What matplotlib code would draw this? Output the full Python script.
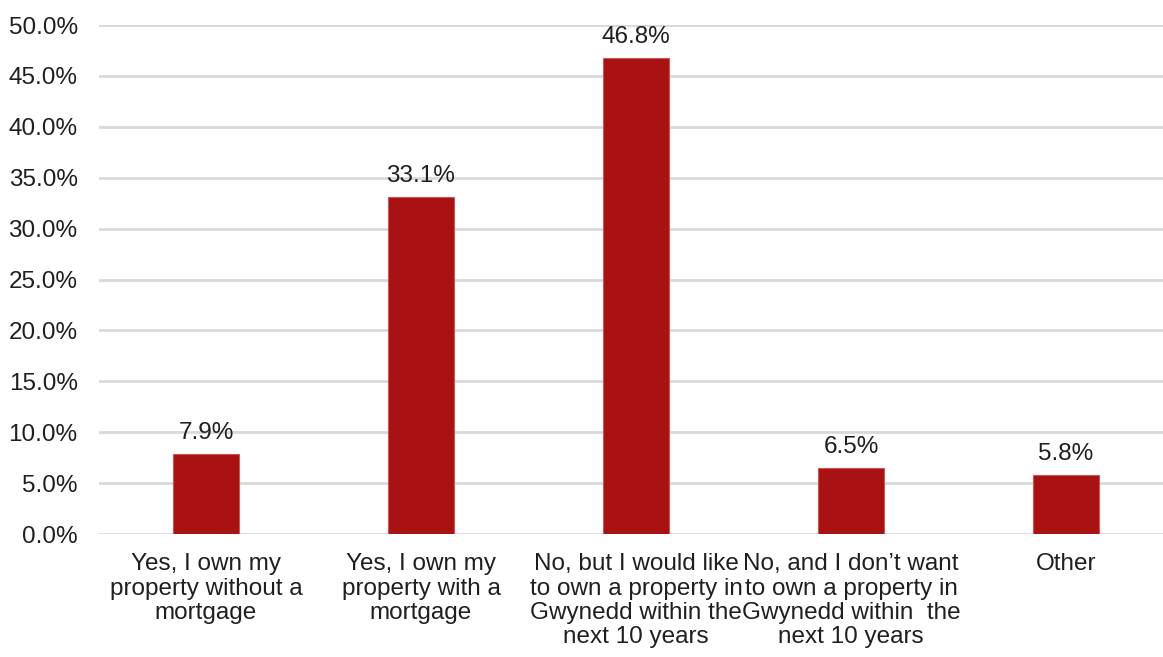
import matplotlib.pyplot as plt
from matplotlib.ticker import FuncFormatter

# survey answers and share of respondents (%)
categories = [
    "Yes, I own my\nproperty without a\nmortgage",
    "Yes, I own my\nproperty with a\nmortgage",
    "No, but I would like\nto own a property in\nGwynedd within the\nnext 10 years",
    "No, and I don\u2019t want\nto own a property in\nGwynedd within  the\nnext 10 years",
    "Other",
]
shares = [7.9, 33.1, 46.8, 6.5, 5.8]
value_labels = ["7.9%", "33.1%", "46.8%", "6.5%", "5.8%"]

plt.rcParams['font.family'] = ['Liberation Sans', 'DejaVu Sans']
text_col = "#1F1F1F"
fs = 17.5

fig = plt.figure(figsize=(11.63, 6.57), dpi=100)
ax = fig.add_axes([0.0847, 0.1872, 0.9243, 0.7747])

x = range(len(categories))
bars = ax.bar(x, shares, width=0.31, color="#A81212", edgecolor="#C85858",
              linewidth=0.8, zorder=3)

for b, lab in zip(bars, value_labels):
    ax.annotate(lab, (b.get_x() + b.get_width() / 2, b.get_height()),
                xytext=(0, 7), textcoords="offset points",
                ha="center", va="bottom", fontsize=fs, color=text_col)

ax.set_xlim(-0.5, len(categories) - 0.5)
ax.set_ylim(0, 50)
ax.set_yticks([i * 5 for i in range(11)])
ax.yaxis.set_major_formatter(FuncFormatter(lambda v, p: f"{v:.1f}%"))
ax.set_xticks(list(x))
ax.set_xticklabels(categories, fontsize=fs, color=text_col, linespacing=1.13)
ax.tick_params(axis="y", labelsize=fs, labelcolor=text_col, length=0, pad=15)
ax.tick_params(axis="x", length=0, pad=14)

ax.grid(axis="y", color="#D9D9D9", linewidth=2, zorder=0)
for s in ax.spines.values():
    s.set_visible(False)

fig.savefig("out.png", dpi=100)
